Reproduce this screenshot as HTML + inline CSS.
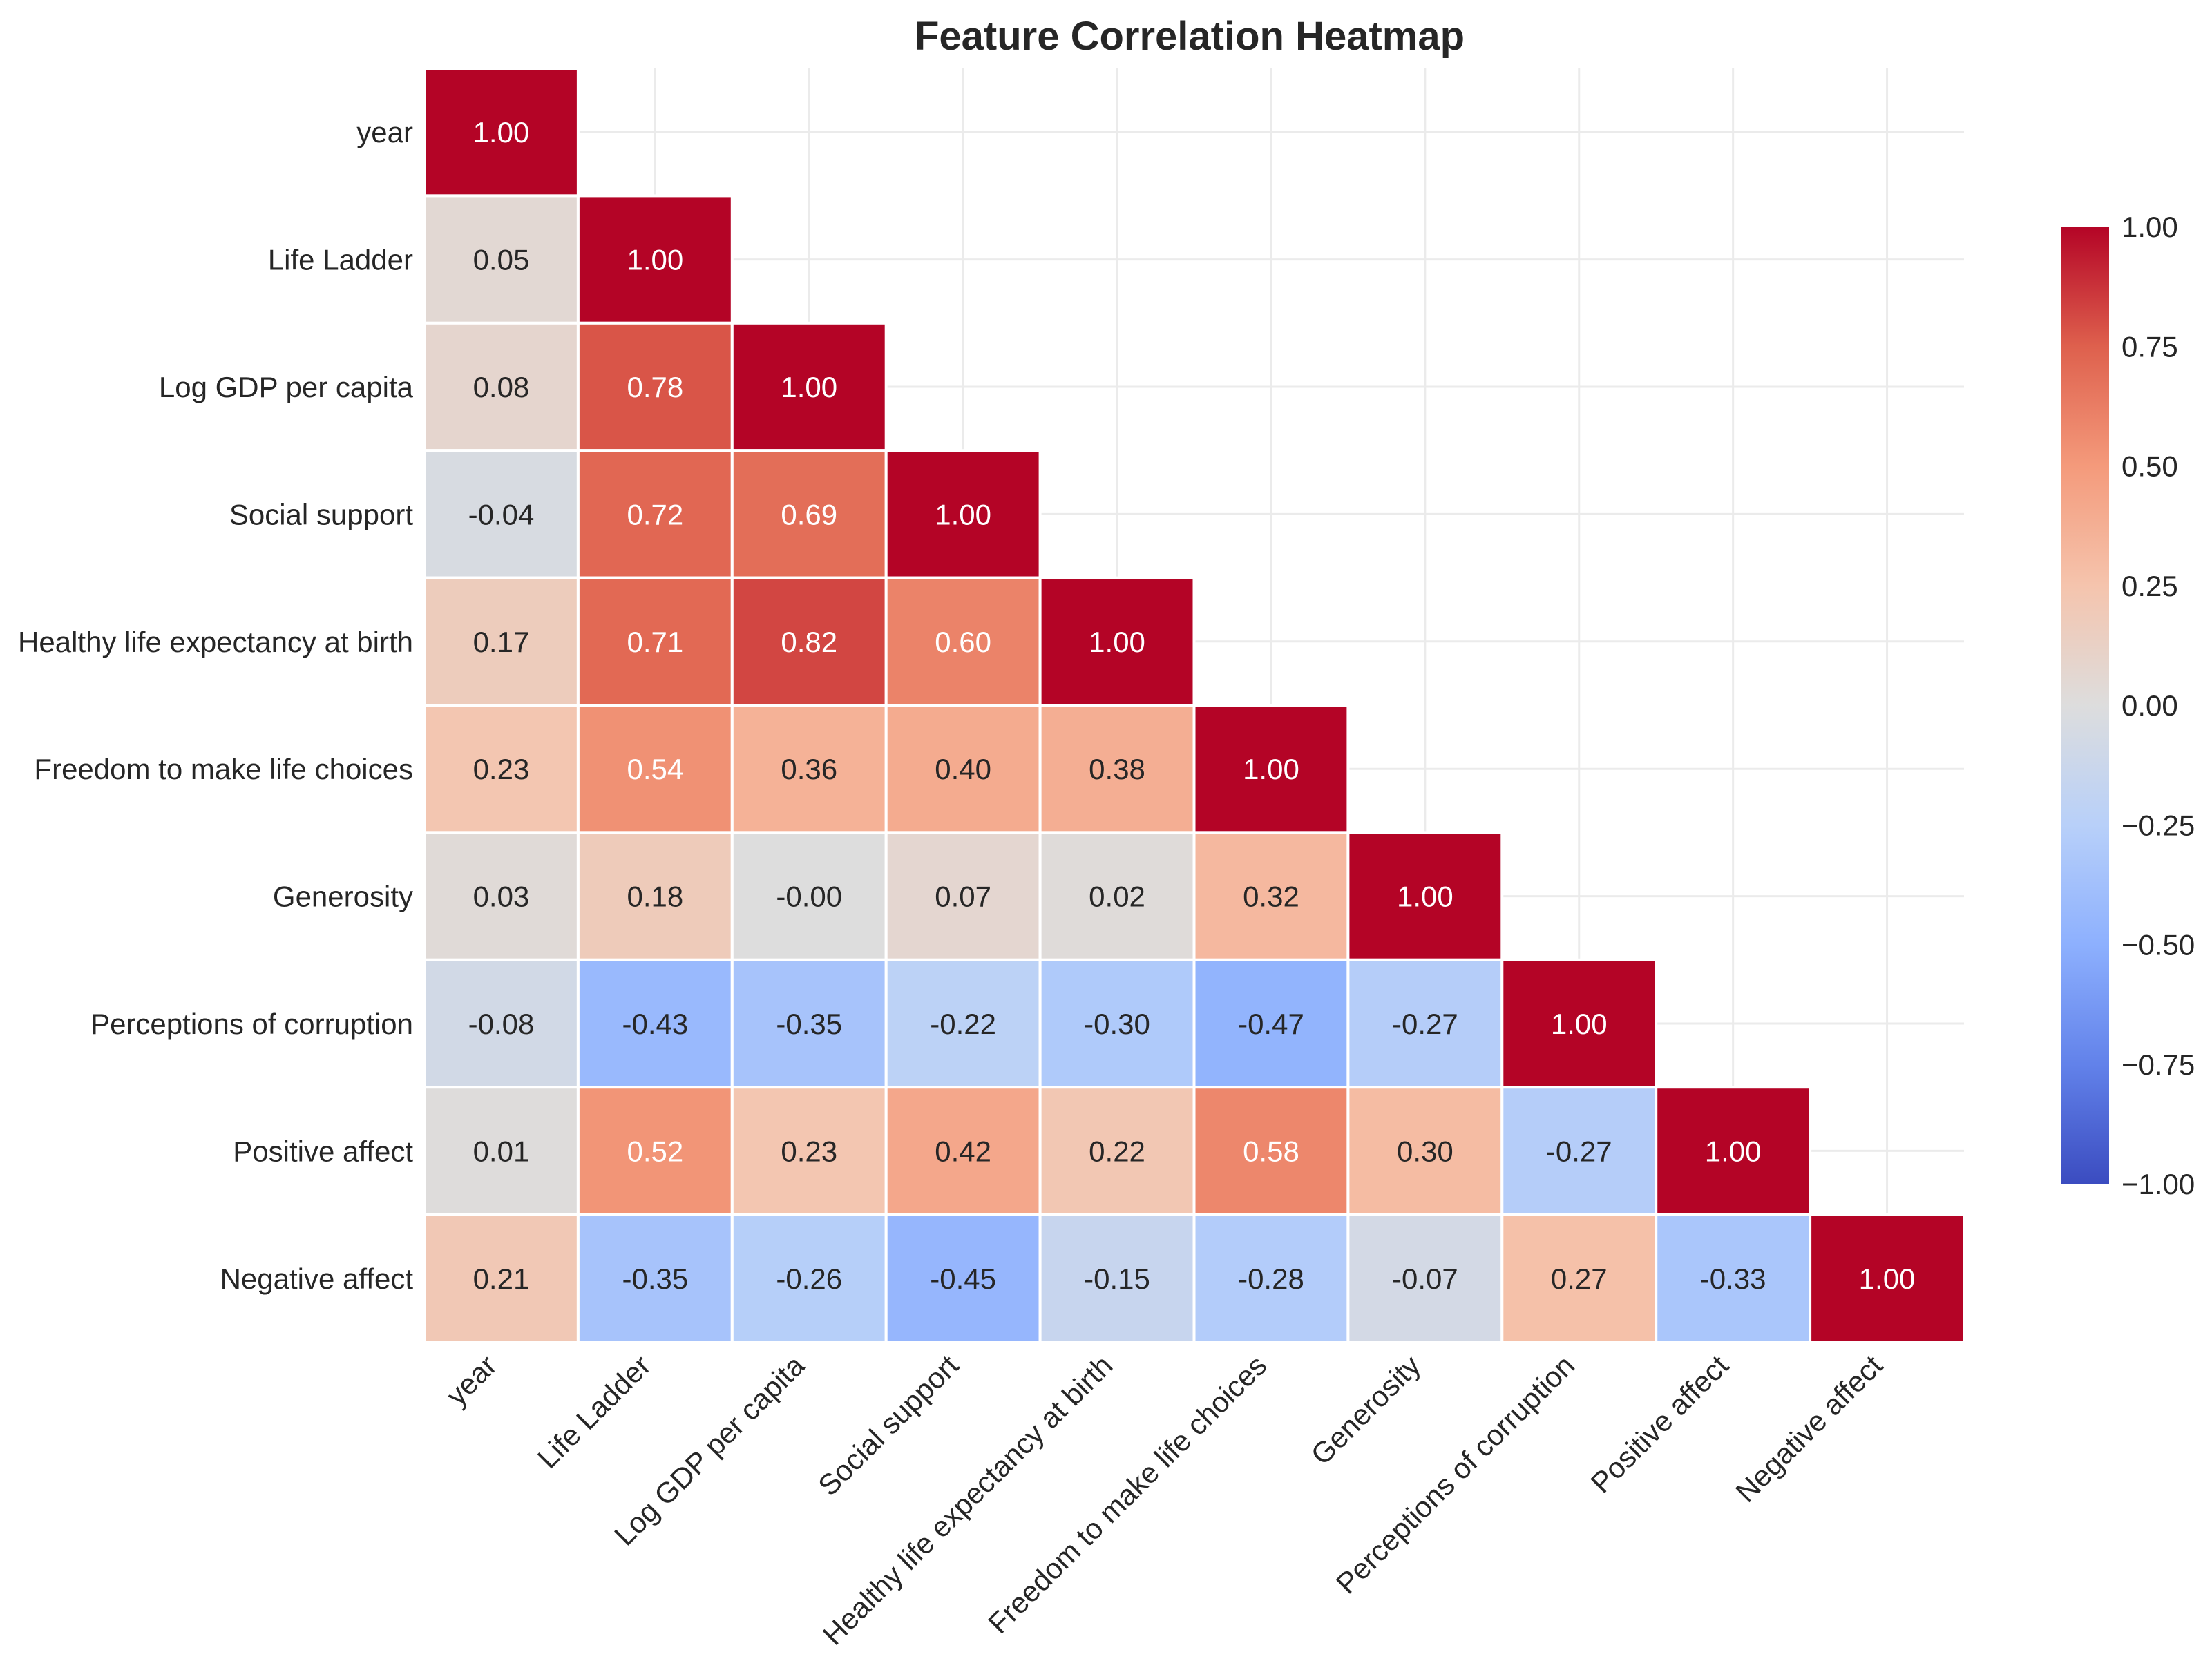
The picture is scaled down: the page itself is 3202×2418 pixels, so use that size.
<!DOCTYPE html>
<html><head><meta charset="utf-8"><style>
html,body{margin:0;padding:0;background:#fff;}
svg{display:block;font-family:"Liberation Sans",Arial,sans-serif;}
</style></head><body>
<svg id="chart" width="3202" height="2418" viewBox="0 0 3202 2418" xmlns="http://www.w3.org/2000/svg">
<rect width="3202" height="2418" fill="#fff"/>
<text x="1722" y="72" text-anchor="middle" font-size="58" font-weight="bold" fill="#262626">Feature Correlation Heatmap</text>
<g id="grid"></g><g id="cells"></g><g id="ylabels"></g><g id="xlabels"></g><g id="cbar"></g>
</svg>
<script>
const labels = ["year","Life Ladder","Log GDP per capita","Social support","Healthy life expectancy at birth","Freedom to make life choices","Generosity","Perceptions of corruption","Positive affect","Negative affect"];
const row0 = [1.00];
const row1 = [0.05,1.00];
const row2 = [0.08,0.78,1.00];
const row3 = [-0.04,0.72,0.69,1.00];
const row4 = [0.17,0.71,0.82,0.60,1.00];
const row5 = [0.23,0.54,0.36,0.40,0.38,1.00];
const row6 = [0.03,0.18,-0.00,0.07,0.02,0.32,1.00];
const row7 = [-0.08,-0.43,-0.35,-0.22,-0.30,-0.47,-0.27,1.00];
const row8 = [0.01,0.52,0.23,0.42,0.22,0.58,0.30,-0.27,1.00];
const row9 = [0.21,-0.35,-0.26,-0.45,-0.15,-0.28,-0.07,0.27,-0.33,1.00];
const matrix = [row0,row1,row2,row3,row4,row5,row6,row7,row8,row9];
const cbarTicks = [1.00,0.75,0.50,0.25,0.00,-0.25,-0.50,-0.75,-1.00];

const NS="http://www.w3.org/2000/svg";
const L=614, T=99, R=2843, B=1943, n=labels.length;
const cw=(R-L)/n, ch=(B-T)/n;
const xPos=j=>L+cw*j, yPos=i=>T+ch*i;
const stops=[[59,76,192],[98,130,234],[141,176,254],[184,208,249],[221,221,221],[245,196,173],[244,154,123],[222,96,77],[180,4,38]];
function cmap(v){let t=(v+1)/2*8;t=Math.max(0,Math.min(8,t));const k=Math.min(7,Math.floor(t)),f=t-k;const a=stops[k],b=stops[k+1];return `rgb(${a.map((c,i)=>Math.round(c+(b[i]-c)*f)).join(',')})`;}
function mk(tag,attrs,parent){const e=document.createElementNS(NS,tag);for(const k in attrs)e.setAttribute(k,attrs[k]);parent.appendChild(e);return e;}
const grid=document.getElementById('grid'),cells=document.getElementById('cells'),yl=document.getElementById('ylabels'),xl=document.getElementById('xlabels'),cb=document.getElementById('cbar');
for(let i=0;i<n;i++){
  const gy=mk('line',{x1:L,x2:R,y1:yPos(i+.5),y2:yPos(i+.5),stroke:'#ebebeb','stroke-width':3},grid);
  
  
  const gx=mk('line',{y1:T,y2:B,x1:xPos(i+.5),x2:xPos(i+.5),stroke:'#ebebeb','stroke-width':3},grid);
  
  
}
matrix.forEach((row,i)=>{row.forEach((v,j)=>{
  const r=mk('rect',{x:xPos(j),y:yPos(i),width:cw,height:ch,fill:cmap(v),stroke:'#fff','stroke-width':4},cells);
  
  
  const t=mk('text',{x:xPos(j+.5),y:yPos(i+.5)+15,'text-anchor':'middle','font-size':42,fill:v>=0.5?'#fff':'#262626'},cells);
  
  
  t.textContent=(Object.is(v,-0)?'-0.00':v.toFixed(2));
});});
labels.forEach((lab,i)=>{
  const t=mk('text',{x:598,y:yPos(i+.5)+15,'text-anchor':'end','font-size':42,fill:'#262626'},yl);
  
  
  t.textContent=lab;
  const cx=xPos(i+.5)-4, cy=1980;
  const u=mk('text',{x:cx,y:cy,'text-anchor':'end','font-size':42,fill:'#262626',transform:`rotate(-45 ${cx} ${cy})`},xl);
  
  
  u.textContent=lab;
});
const cbX=2983,cbW=70,cbT=328,cbB=1714;
const defs=mk('defs',{},cb);
const lg=mk('linearGradient',{id:'cg',x1:0,y1:1,x2:0,y2:0},defs);
stops.forEach((s,k)=>mk('stop',{offset:k/8,'stop-color':`rgb(${s.join(',')})`},lg));
const bar=mk('rect',{x:cbX,y:cbT,width:cbW,height:cbB-cbT,fill:'url(#cg)'},cb);


const cy=v=>cbB-(v+1)/2*(cbB-cbT);
cbarTicks.forEach(v=>{
  const t=mk('text',{x:cbX+cbW+18,y:cy(v)+15,'font-size':42,fill:'#262626'},cb);
  
  
  t.textContent=(v<0?'\u2212':'')+Math.abs(v).toFixed(2);
});
</script>
</body></html>
